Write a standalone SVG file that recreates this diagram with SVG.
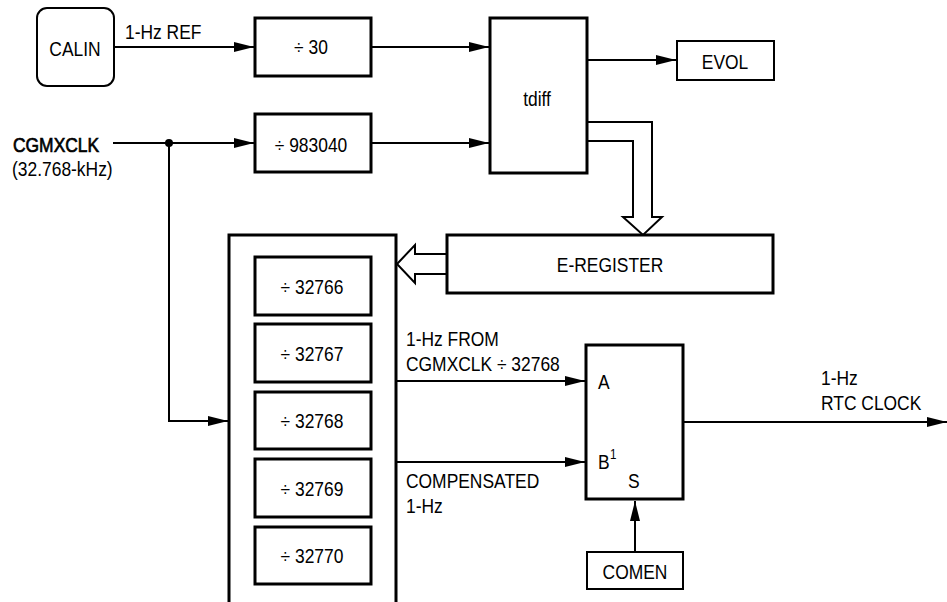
<svg xmlns="http://www.w3.org/2000/svg" width="947" height="602" viewBox="0 0 947 602">
<defs>
<style>
.t{font-family:"Liberation Sans",Arial,sans-serif;font-size:21px;fill:#000}
.m{text-anchor:middle}
.b{stroke:#000;stroke-width:0.7}
.box{fill:#fff;stroke:#000;stroke-width:3}
.thin{fill:#fff;stroke:#000;stroke-width:2}
.ln{fill:none;stroke:#000;stroke-width:2}
.hol{fill:#fff;stroke:#000;stroke-width:2;stroke-linejoin:miter}
</style>
<marker id="ah" markerUnits="userSpaceOnUse" markerWidth="20" markerHeight="10" refX="20" refY="5" orient="auto">
<path d="M0,0 L20,5 L0,10 z" fill="#000"/>
</marker>
</defs>
<rect width="947" height="602" fill="#fff"/>

<g id="connectors">
<path class="ln" d="M114,47 H254" marker-end="url(#ah)"/>
<path class="ln" d="M371,47 H489" marker-end="url(#ah)"/>
<path class="ln" d="M113,143 H254" marker-end="url(#ah)"/>
<path class="ln" d="M371,143 H489" marker-end="url(#ah)"/>
<circle cx="169" cy="143" r="4" fill="#000"/>
<path class="ln" d="M169,143 V421 H228" marker-end="url(#ah)"/>
<path class="ln" d="M587,60 H676" marker-end="url(#ah)"/>
<path class="ln" d="M396,381 H585" marker-end="url(#ah)"/>
<path class="ln" d="M396,462 H585" marker-end="url(#ah)"/>
<path class="ln" d="M683,422 H947" marker-end="url(#ah)"/>
<path class="ln" d="M635,552 V501" marker-end="url(#ah)"/>
<path class="hol" d="M587,122 H652 V217 H662 L643,235 L623,217 H633 V141 H587" fill="none"/>
<path class="hol" d="M447,254 H415 V245 L397,264 L415,283 V274 H447"/>
<text class="t" transform="translate(125,39) scale(.83,1)">1-Hz REF</text>
<text class="t b" transform="translate(13,152) scale(.83,1)">CGMXCLK</text>
<text class="t" transform="translate(12,176) scale(.83,1)">(32.768-kHz)</text>
<text class="t" transform="translate(406,346) scale(.83,1)">1-Hz FROM</text>
<text class="t" transform="translate(406,371) scale(.83,1)">CGMXCLK ÷ 32768</text>
<text class="t" transform="translate(406,488) scale(.83,1)">COMPENSATED</text>
<text class="t" transform="translate(406,513) scale(.83,1)">1-Hz</text>
<text class="t" transform="translate(821,385) scale(.83,1)">1-Hz</text>
<text class="t" transform="translate(821,410) scale(.83,1)">RTC CLOCK</text>
</g>

<g id="calin">
<rect class="thin" x="37" y="8" width="77" height="78" rx="10"/>
<text class="t m" transform="translate(75,56) scale(.83,1)">CALIN</text>
</g>
<g id="div30">
<rect class="box" x="255" y="18" width="116" height="58"/>
<text class="t m" transform="translate(311,54) scale(.83,1)">÷ 30</text>
</g>
<g id="div983040">
<rect class="box" x="255" y="114" width="116" height="58"/>
<text class="t m" transform="translate(311,152) scale(.83,1)">÷ 983040</text>
</g>
<g id="tdiff">
<rect class="box" x="490" y="18" width="97" height="155"/>
<text class="t m" transform="translate(537,106) scale(.83,1)">tdiff</text>
</g>
<g id="evol">
<rect class="thin" x="677" y="41" width="97" height="39"/>
<text class="t m" transform="translate(725,69) scale(.83,1)">EVOL</text>
</g>
<g id="eregister">
<rect class="box" x="447" y="235" width="326" height="58"/>
<text class="t m" transform="translate(610,272) scale(.83,1)">E-REGISTER</text>
</g>
<g id="divider-bank">
<path d="M229,602 V235 H396 V602" fill="#fff" stroke="#000" stroke-width="3"/>
<g id="div32766">
<rect class="box" x="255" y="257" width="116" height="58"/>
<text class="t m" transform="translate(312,294) scale(.83,1)">÷ 32766</text>
</g>
<g id="div32767">
<rect class="box" x="255" y="324" width="116" height="58"/>
<text class="t m" transform="translate(312,361) scale(.83,1)">÷ 32767</text>
</g>
<g id="div32768">
<rect class="box" x="255" y="392" width="116" height="57"/>
<text class="t m" transform="translate(312,428) scale(.83,1)">÷ 32768</text>
</g>
<g id="div32769">
<rect class="box" x="255" y="459" width="116" height="58"/>
<text class="t m" transform="translate(312,496) scale(.83,1)">÷ 32769</text>
</g>
<g id="div32770">
<rect class="box" x="255" y="527" width="116" height="57"/>
<text class="t m" transform="translate(312,563) scale(.83,1)">÷ 32770</text>
</g>
</g>
<g id="mux">
<rect class="box" x="586" y="345" width="97" height="154"/>
<text class="t" transform="translate(598,389) scale(.83,1)">A</text>
<text class="t" transform="translate(598,469) scale(.83,1)">B</text>
<text class="t" style="font-size:14px" transform="translate(610,459) scale(.83,1)">1</text>
<text class="t" transform="translate(628,488) scale(.83,1)">S</text>
</g>
<g id="comen">
<rect class="thin" x="587" y="552" width="96" height="37"/>
<text class="t m" transform="translate(635,579) scale(.83,1)">COMEN</text>
</g>
</svg>
